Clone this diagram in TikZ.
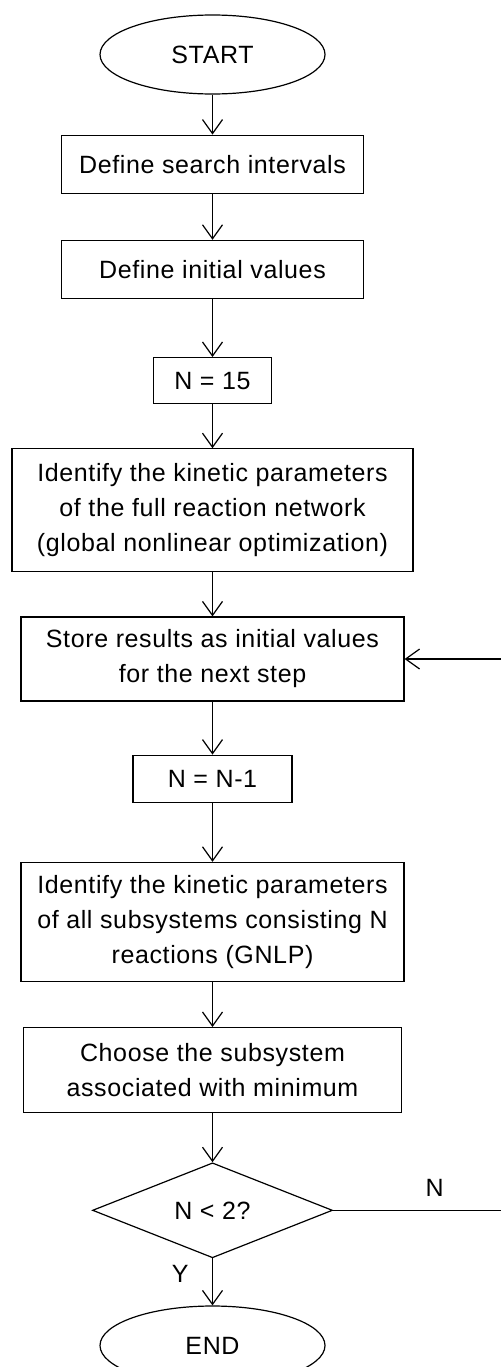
\documentclass[tikz,border=0pt]{standalone}
\usepackage{fontspec}
\setmainfont{Liberation Sans}[LetterSpace=2.5]
\usepackage{tikz}
\usetikzlibrary{positioning,shapes.geometric,arrows.meta}

\newcommand{\chartfont}{\fontsize{25bp}{35bp}\selectfont}

\begin{document}
\begin{tikzpicture}[
        box/.style = {
            draw,
            line width=1.2bp,
            align=center,
            inner sep=2bp,
            minimum height={58bp},
            font=\chartfont
        },
        term/.style = {
            draw, ellipse,
            line width=1.2bp,
            minimum width={225bp},
            minimum height={79bp},
            font=\chartfont
        },
        decision/.style = {
            draw, diamond, aspect=2.5,
            line width=1.2bp,
            inner sep=0pt,
            minimum width={240bp},
            minimum height={95bp},
            font=\chartfont
        },
        >={Straight Barb[length=14bp,width=20bp]},
        every path/.style={line width=1.2bp},
        node distance=44bp]

        \useasboundingbox (0,0) rectangle (501bp,-1367bp);

        \node[term] (start) at (212.5bp,-54.5bp) {START};
        \node[box, minimum width=302bp, below=40bp of start] (intervals) {Define search intervals};
        \node[box, minimum width=302bp, below=46bp of intervals] (initial) {Define initial values};
        \node[box, minimum width=118bp, minimum height=46bp, below=58bp of initial] (nfull) {N = 15};
        \node[box, minimum width=401bp, minimum height=123bp, below=of nfull] (full) {Identify the kinetic parameters\\of the full reaction network\\(global nonlinear optimization)};
        \node[box, minimum width=383bp, minimum height=84bp, below=of full] (store) {Store results as initial values\\for the next step};
        \node[box, minimum width=159bp, minimum height=47bp, below=53bp of store] (ndec) {N = N-1};
        \node[box, minimum width=383bp, minimum height=119bp, below=59bp of ndec] (subsys) {Identify the kinetic parameters\\of all subsystems consisting N\\reactions (GNLP)};
        \node[box, minimum width=378bp, minimum height=85bp, below=45bp of subsys] (choose) {Choose the subsystem\\associated with minimum};
        \node[decision, below=49bp of choose] (test) {N < 2?};
        \node[term, below=47bp of test] (stop) {END};
        \coordinate[right=172bp of test.east] (back);

        \draw[->] (start) -- (intervals);
        \draw[->] (intervals) -- (initial);
        \draw[->] (initial) -- (nfull);
        \draw[->] (nfull) -- (full);
        \draw[->] (full) -- (store);
        \draw[->] (store) -- (ndec);
        \draw[->] (ndec) -- (subsys);
        \draw[->] (subsys) -- (choose);
        \draw[->] (choose) -- (test);
        \draw[->] (test) -- node[left=20bp, pos=0.34, font=\chartfont] {Y} (stop);
        \draw[->] (test) -- node[above=10bp, pos=0.59, font=\chartfont] {N} (back) |- (store);
    \end{tikzpicture}
\end{document}
